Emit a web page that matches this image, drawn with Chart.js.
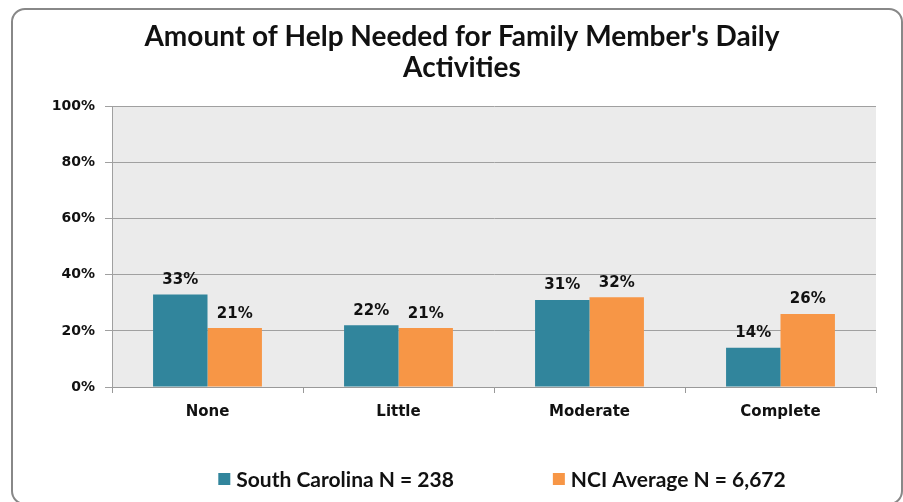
<!DOCTYPE html>
<html>
<head>
<meta charset="utf-8">
<script src="https://cdn.jsdelivr.net/npm/chart.js@4.4.0/dist/chart.umd.min.js"></script>
<style>
  html, body { margin: 0; padding: 0; background: #fff; }
  #wrap { position: relative; width: 903px; height: 502px; overflow: hidden; }
  #frame {
    position: absolute; left: 11px; top: 8px; width: 892px; height: 497px;
    box-sizing: border-box; border: 2px solid #888; border-radius: 14px;
  }
  #myChart { position: absolute; left: 0; top: 0; }
</style>
</head>
<body>
<div id="wrap">
  <div id="frame"></div>
  <canvas id="myChart" width="903" height="502"></canvas>
</div>
<script>
const categories = ["None", "Little", "Moderate", "Complete"];
const southCarolina = [33, 22, 31, 14];
const nciAverage = [21, 21, 32, 26];
const seriesNames = ["South Carolina N = 238", "NCI Average N = 6,672"];
const titleLines = ["Amount of Help Needed for Family Member's Daily", "Activities"];

// grey plot background
const plotBg = {
  id: "plotBg",
  beforeDraw(chart) {
    const { ctx, chartArea: a } = chart;
    ctx.save();
    ctx.fillStyle = "#EBEBEB";
    ctx.fillRect(a.left, a.top, a.right - a.left, a.bottom - a.top);
    ctx.restore();
  }
};

// value labels above bars
const barLabels = {
  id: "barLabels",
  afterDatasetsDraw(chart) {
    const ctx = chart.ctx;
    ctx.save();
    ctx.font = "bold 15px 'DejaVu Sans'";
    ctx.fillStyle = "#111";
    ctx.textAlign = "center";
    ctx.textBaseline = "bottom";
    chart.data.datasets.forEach((ds, i) => {
      chart.getDatasetMeta(i).data.forEach((bar, j) => {
        ctx.fillText(ds.data[j] + "%", bar.x, bar.y - 7);
      });
    });
    ctx.restore();
  }
};

// legend with wide gap between items
const wideLegend = {
  id: "wideLegend",
  afterDraw(chart) {
    const ctx = chart.ctx;
    const gap = 99, box = 12, y = 479;
    ctx.save();
    ctx.font = "bold 21px Lato";
    ctx.textBaseline = "middle";
    const items = chart.data.datasets.map(ds => ({
      text: ds.label, color: ds.backgroundColor,
      w: box + 6 + ctx.measureText(ds.label).width
    }));
    const total = items.reduce((s, it) => s + it.w, 0) + gap * (items.length - 1);
    let x = 502 - total / 2;
    items.forEach(it => {
      ctx.fillStyle = it.color;
      ctx.fillRect(x, y - box / 2, box, box);
      ctx.fillStyle = "#111";
      ctx.fillText(it.text, x + box + 6, y + 1);
      x += it.w + gap;
    });
    ctx.restore();
  }
};

const data = {
  labels: categories,
  datasets: [
    { label: seriesNames[0], data: southCarolina, backgroundColor: "#31859C" },
    { label: seriesNames[1], data: nciAverage, backgroundColor: "#F79646" }
  ]
};

const config = {
  type: "bar",
  data: data,
  options: {
    responsive: false,
    animation: false,
    layout: { padding: { left: 48, right: 27, top: 0, bottom: 75 } },
    datasets: { bar: { categoryPercentage: 0.57, barPercentage: 1.0 } },
    plugins: {
      legend: { display: false },
      tooltip: { enabled: false },
      title: {
        display: true,
        text: titleLines,
        color: "#111",
        font: { family: "Lato", weight: "bold", size: 28, lineHeight: 1.1 },
        padding: { top: 22, bottom: 23 }
      }
    },
    scales: {
      x: {
        grid: { display: true, drawOnChartArea: false, drawTicks: true, tickLength: 6, offset: true, color: "#999" },
        border: { color: "#999" },
        ticks: { color: "#111", padding: 10, font: { family: "DejaVu Sans", weight: "bold", size: 15 } },
        afterFit(s) { s.height = 40; }
      },
      y: {
        min: 0, max: 100,
        ticks: { stepSize: 20, color: "#111", padding: 10, callback: v => v + "%",
                 font: { family: "DejaVu Sans", weight: "bold", size: 14 } },
        grid: { color: "#A0A0A0", tickLength: 7 },
        border: { color: "#A0A0A0" },
        afterFit(s) { s.width = 64; }
      }
    }
  },
  plugins: [plotBg, barLabels, wideLegend]
};

const myChart = new Chart(document.getElementById("myChart"), config);
</script>
</body>
</html>
